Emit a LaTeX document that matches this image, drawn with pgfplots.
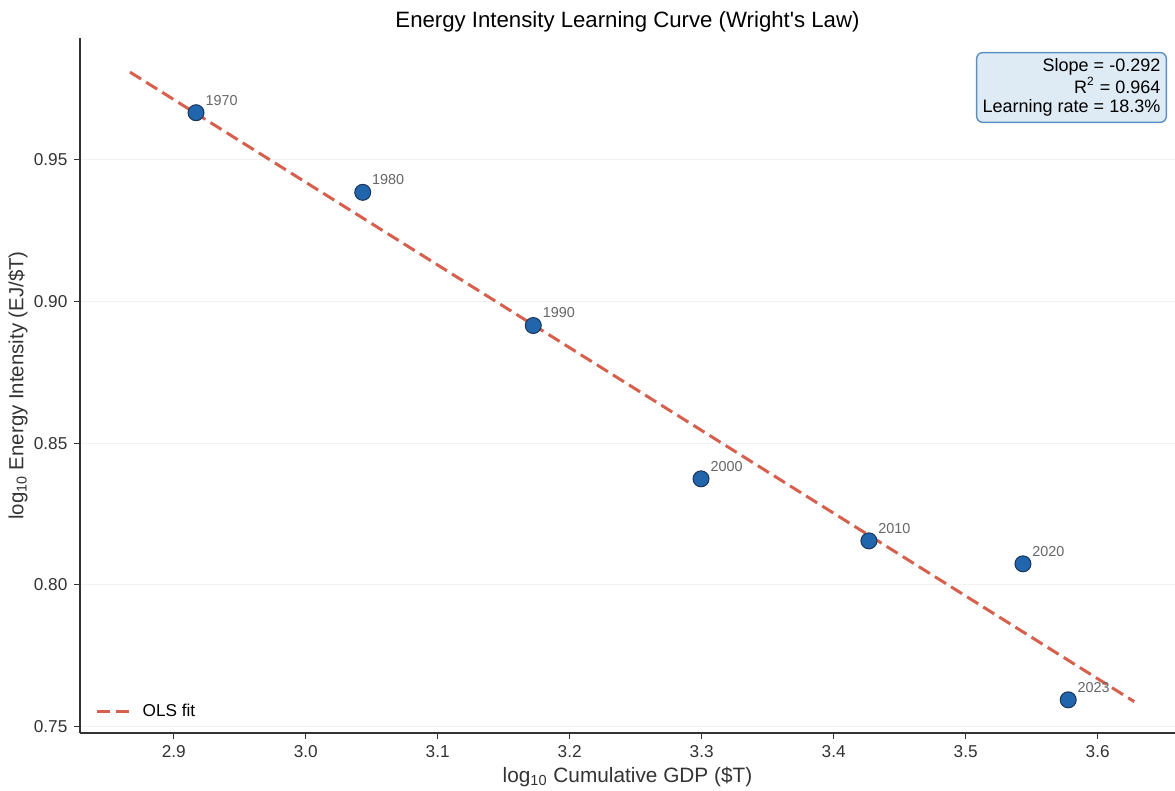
\documentclass[border=0pt]{standalone}
\usepackage{fontspec}
\setmainfont{Liberation Sans}
\usepackage{pgfplots}
\pgfplotsset{compat=1.18}
\definecolor{ptfill}{HTML}{2166AC}
\definecolor{ptedge}{HTML}{1A3558}
\definecolor{fitc}{HTML}{D6604D}
\definecolor{boxfill}{HTML}{DEEBF5}
\definecolor{boxedge}{HTML}{5A8FC3}
\definecolor{spine}{HTML}{333333}
\begin{document}
\begin{tikzpicture}
\path[use as bounding box] (0,0) rectangle (587.5pt,395.5pt);
\begin{axis}[
  at={(40pt,29pt)}, anchor=south west,
  scale only axis,
  width=547.5pt, height=347.5pt,
  xmin=2.829, xmax=3.6586,
  ymin=0.7477, ymax=0.99297,
  axis x line*=bottom, axis y line*=left,
  axis line style={draw=spine, line width=0.6pt, -},
  tick style={draw=spine, line width=0.6pt},
  tick align=outside,
  major tick length=2.8pt,
  xtick={2.9,3.0,3.1,3.2,3.3,3.4,3.5,3.6},
  ytick={0.75,0.80,0.85,0.90,0.95},
  xticklabel style={/pgf/number format/.cd, fixed, fixed zerofill, precision=1, assume math mode=true},
  yticklabel style={/pgf/number format/.cd, fixed, fixed zerofill, precision=2, assume math mode=true},
  ticklabel style={font=\fontsize{8.6}{10}\selectfont, text=spine},
  ymajorgrids,
  grid style={draw=black!5, line width=0.5pt},
  xlabel={log\textsubscript{10} Cumulative GDP (\$T)},
  ylabel={log\textsubscript{10} Energy Intensity (EJ/\$T)},
  xlabel style={font=\fontsize{10.4}{12}\selectfont, text=spine, at={(0.5,-0.063)}, anchor=center},
  ylabel style={font=\fontsize{10.2}{12}\selectfont, text=spine, at={(-0.0566,0.5)}, anchor=center},
  legend style={at={(0.0085,0.008)}, anchor=south west, draw=none, fill=none,
    font=\fontsize{8.6}{11}\selectfont},
  legend cell align=left,
  legend image code/.code={\draw[#1] (0pt,0pt) -- (17pt,0pt); \path (20pt,0pt);},
  clip=false,
]
\addplot[fitc, line width=1.5pt, dash pattern=on 6.5pt off 3pt] coordinates {
  (2.8669,0.98092) (3.6277,0.75877)
};
\addlegendentry{OLS fit}
\addplot[only marks, mark=*, mark size=4pt,
  mark options={fill=ptfill, draw=ptedge, line width=0.5pt},
  nodes near coords={\pgfplotspointmeta},
  point meta=explicit symbolic,
  every node near coord/.style={anchor=south west, inner sep=0pt,
    xshift=4.5pt, yshift=3.5pt, font=\fontsize{7.2}{8}\selectfont, text=black!60},
  forget plot]
table[meta=label] {
x y label
2.9169 0.9666 1970
3.0432 0.9385 1980
3.1724 0.8915 1990
3.2995 0.8374 2000
3.4267 0.8155 2010
3.5434 0.8074 2020
3.5777 0.7594 2023
};
\node[anchor=north east, draw=boxedge, fill=boxfill, rounded corners=3pt,
  line width=0.7pt, align=right, inner sep=3pt,
  font=\fontsize{9}{9.6}\selectfont]
  at (rel axis cs:0.9927,0.98)
  {Slope = -0.292\\R\textsuperscript{2} = 0.964\\Learning rate = 18.3\%};
\node[anchor=base, font=\fontsize{11.1}{13}\selectfont]
  at (axis description cs:0.5,1.0158)
  {Energy Intensity Learning Curve (Wright\textquotesingle s Law)};
\end{axis}
\end{tikzpicture}
\end{document}
